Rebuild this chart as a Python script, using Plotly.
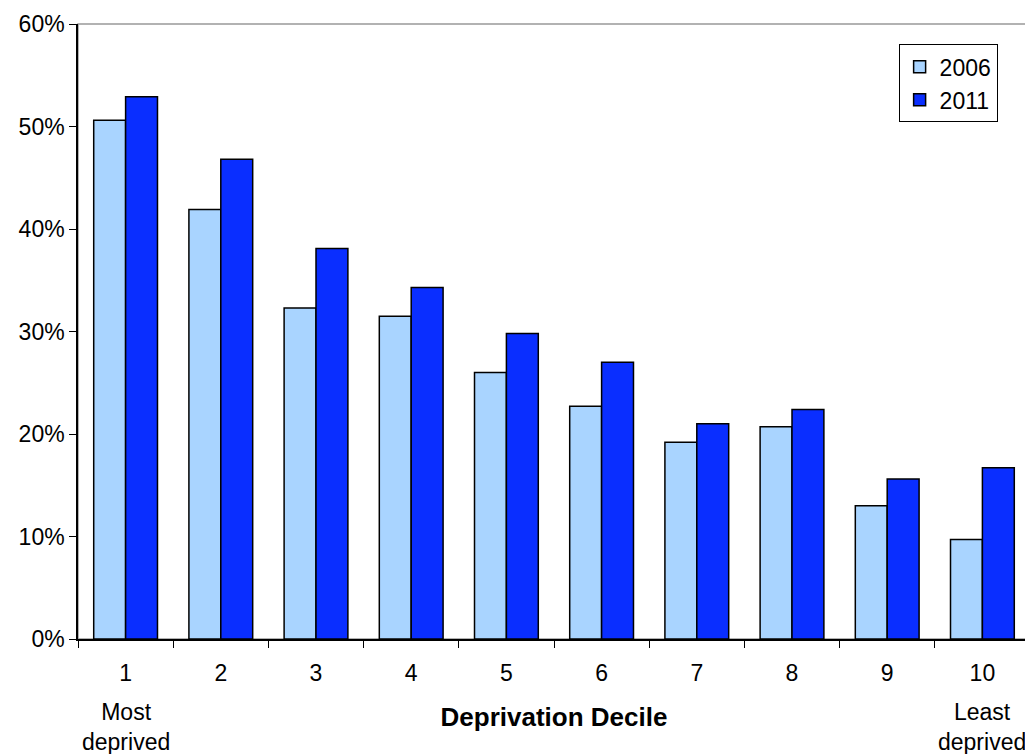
import plotly.graph_objects as go

deciles = ["1", "2", "3", "4", "5", "6", "7", "8", "9", "10"]
y2006 = [0.506, 0.419, 0.323, 0.315, 0.260, 0.227, 0.192, 0.207, 0.130, 0.097]
y2011 = [0.529, 0.468, 0.381, 0.343, 0.298, 0.270, 0.210, 0.224, 0.156, 0.167]

fig = go.Figure()
fig.add_trace(go.Bar(x=deciles, y=y2006, name="2006",
                     marker=dict(color="#A9D4FF", line=dict(color="black", width=1.5))))
fig.add_trace(go.Bar(x=deciles, y=y2011, name="2011",
                     marker=dict(color="#0A2EFF", line=dict(color="black", width=1.5))))

font = "Liberation Sans, Arial, sans-serif"
fig.update_layout(
    width=1025, height=746,
    margin=dict(l=70, r=3, t=16, b=115, autoexpand=False),
    plot_bgcolor="white", paper_bgcolor="white",
    barmode="group", bargap=0.33, bargroupgap=0,
    font=dict(family=font, size=23, color="black"),
    showlegend=True,
    legend=dict(x=0.862, y=0.967, xanchor="left", yanchor="top",
                bordercolor="black", borderwidth=1, bgcolor="white",
                font=dict(size=23), itemwidth=30, tracegroupgap=2),
    shapes=[dict(type="rect", xref="paper", yref="paper", x0=0, x1=1, y0=0, y1=1,
                 line=dict(color="#999999", width=1.5), layer="below")],
    annotations=[
        dict(text="Most<br>deprived", x=0, y=0, xref="x", yref="paper",
             yshift=-58, yanchor="top", showarrow=False, font=dict(size=23)),
        dict(text="Least<br>deprived", x=9, y=0, xref="x", yref="paper",
             yshift=-58, yanchor="top", showarrow=False, font=dict(size=23)),
    ],
)
fig.update_xaxes(type="category", range=[-0.5, 9.5], showline=True, linecolor="black",
                 linewidth=1.5, ticks="outside", tickson="boundaries", ticklen=7,
                 tickcolor="black", tickfont=dict(size=23), ticklabelstandoff=13,
                 title=dict(text="<b>Deprivation Decile</b>", font=dict(size=26), standoff=22))
fig.update_yaxes(range=[0, 0.6], dtick=0.1, tickformat=".0%", showgrid=False,
                 showline=True, linecolor="black", linewidth=1.5, ticks="outside",
                 ticklen=7, tickcolor="black", tickfont=dict(size=23), zeroline=False)

fig.write_html("out.html")
